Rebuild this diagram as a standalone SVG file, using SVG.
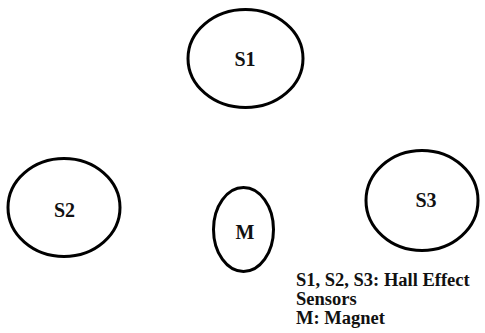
<svg xmlns="http://www.w3.org/2000/svg" width="485" height="333" viewBox="0 0 485 333">
  <style>
    .ring { fill: none; stroke: #000; stroke-width: 3; }
    .lbl { font-family: 'Liberation Serif', 'DejaVu Serif', serif; font-weight: bold; font-size: 20px; fill: #111; text-anchor: middle; }
    .legend { font-family: 'Liberation Serif', 'DejaVu Serif', serif; font-weight: bold; font-size: 18.5px; fill: #111; }
  </style>
  <rect width="485" height="333" fill="#fff"/>
  <g id="connectors"></g>
  <g id="S1">
    <ellipse class="ring" cx="245.5" cy="58.5" rx="57.5" ry="49"/>
    <text class="lbl" x="245" y="66">S1</text>
  </g>
  <g id="S2">
    <ellipse class="ring" cx="64" cy="207.5" rx="56" ry="49"/>
    <text class="lbl" x="64.5" y="217">S2</text>
  </g>
  <g id="S3">
    <ellipse class="ring" cx="422" cy="200.5" rx="56" ry="50"/>
    <text class="lbl" x="426" y="207">S3</text>
  </g>
  <g id="M">
    <ellipse class="ring" cx="243.5" cy="229.5" rx="30" ry="42"/>
    <text class="lbl" x="245" y="239">M</text>
  </g>
  <g id="legend">
    <text class="legend" x="296" y="286">S1, S2, S3: Hall Effect</text>
    <text class="legend" x="296" y="305">Sensors</text>
    <text class="legend" x="296" y="324">M: Magnet</text>
  </g>
</svg>
